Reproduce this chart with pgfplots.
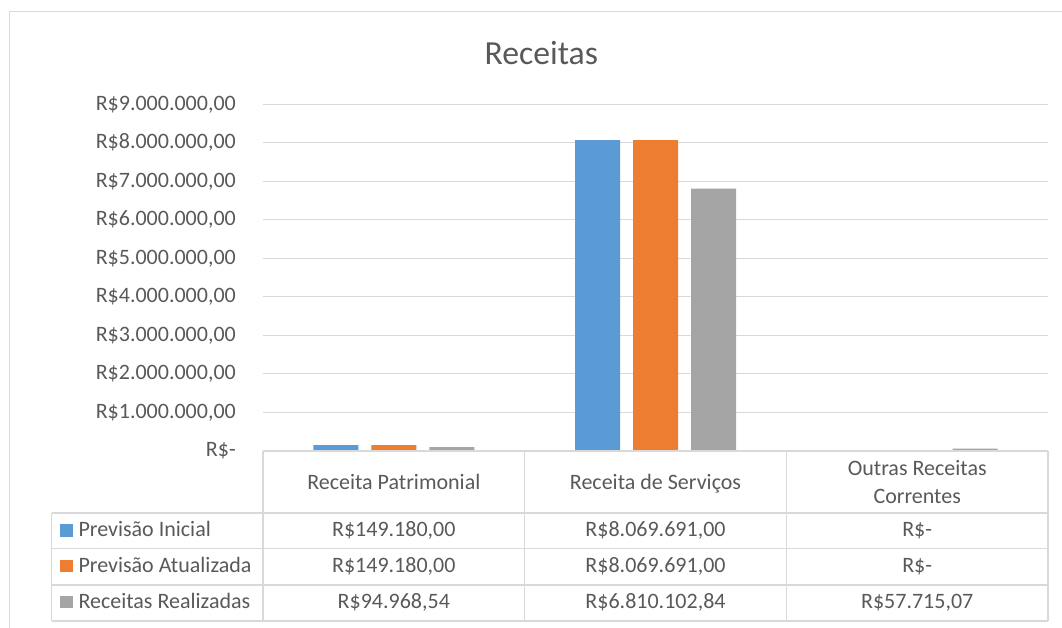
\documentclass[border=0pt]{standalone}
\usepackage{pgfplots}
\pgfplotsset{compat=1.18}
\usepackage{fontspec}
\setmainfont{Carlito}
\definecolor{txt}{HTML}{595959}
\definecolor{grd}{HTML}{D9D9D9}
\definecolor{c1}{HTML}{5B9BD5}
\definecolor{c2}{HTML}{ED7D31}
\definecolor{c3}{HTML}{A5A5A5}
\newcommand{\tf}{\fontsize{22}{26}\selectfont}
\begin{document}
\begin{tikzpicture}[x=1pt,y=1pt]
\useasboundingbox (0,0) rectangle (1062,628);
\begin{axis}[
  at={(263pt,177.2pt)}, anchor=south west,
  scale only axis, width=785pt, height=346.5pt,
  xmin=-0.5, xmax=2.5, ymin=0, ymax=9000000,
  xtick=\empty,
  ytick={0,1000000,2000000,3000000,4000000,5000000,6000000,7000000,8000000,9000000},
  yticklabels={{R\$-\hspace{9pt}},{R\$1.000.000,00},{R\$2.000.000,00},{R\$3.000.000,00},{R\$4.000.000,00},{R\$5.000.000,00},{R\$6.000.000,00},{R\$7.000.000,00},{R\$8.000.000,00},{R\$9.000.000,00}},
  ymajorgrids, grid style={grd, line width=1pt},
  axis line style={draw=none}, major tick length=0pt,
  yticklabel style={font=\tf, text=txt, inner sep=0pt, xshift=-27pt},
  ybar=13pt, bar width=45pt,
  scaled y ticks=false,
  clip=false,
]
\addplot[fill=c1, draw=none] coordinates {(0,149180) (1,8069691) (2,0)};
\addplot[fill=c2, draw=none] coordinates {(0,149180) (1,8069691) (2,0)};
\addplot[fill=c3, draw=none] coordinates {(0,94968.54) (1,6810102.84) (2,57715.07)};
\end{axis}
\begin{scope}[x=1pt,y=-1pt,yshift=628pt]
  % outer frame
  \draw[grd, line width=1pt] (9,628) -- (9,12) -- (1062,12);
  % title
  \node[anchor=base, text=txt, font=\fontsize{33.7}{40}\selectfont] at (541.3,64.3) {Receitas};
  % table lines
  \draw[grd, line width=1.2pt] (263,451) -- (1048,451);
  \draw[grd, line width=1.2pt] (51.7,513) -- (1048,513);
  \draw[grd, line width=1.2pt] (51.7,548.7) -- (1048,548.7);
  \draw[grd, line width=1.2pt] (51.7,585) -- (1048,585);
  \draw[grd, line width=1.2pt] (51.7,621) -- (1048,621);
  \draw[grd, line width=1.2pt] (51.7,513) -- (51.7,621);
  \draw[grd, line width=1.2pt] (263,451) -- (263,621);
  \draw[grd, line width=1.2pt] (524.7,451) -- (524.7,621);
  \draw[grd, line width=1.2pt] (786.3,451) -- (786.3,621);
  \draw[grd, line width=1.2pt] (1048,451) -- (1048,621);
  % header
  \node[anchor=base, text=txt, font=\tf, inner sep=0pt] at (393.8,490) {Receita Patrimonial};
  \node[anchor=base, text=txt, font=\tf, inner sep=0pt] at (655.5,490) {Receita de Serviços};
  \node[anchor=base, text=txt, font=\tf, inner sep=0pt] at (917.2,475.7) {Outras Receitas};
  \node[anchor=base, text=txt, font=\tf, inner sep=0pt] at (917.2,503.6) {Correntes};
  % legend keys
  \fill[c1] (60,524) rectangle (72.7,536.7);
  \fill[c2] (60,559.6) rectangle (72.7,572.3);
  \fill[c3] (60,595.6) rectangle (72.7,608.3);
  \node[anchor=base west, text=txt, font=\tf, inner sep=0pt] at (78.3,536.7) {Previsão Inicial};
  \node[anchor=base west, text=txt, font=\tf, inner sep=0pt] at (78.3,572.3) {Previsão Atualizada};
  \node[anchor=base west, text=txt, font=\tf, inner sep=0pt] at (78.3,608.3) {Receitas Realizadas};
  % values
  \node[anchor=base, text=txt, font=\tf, inner sep=0pt] at (393.8,536.7) {R\$149.180,00};
  \node[anchor=base, text=txt, font=\tf, inner sep=0pt] at (655.5,536.7) {R\$8.069.691,00};
  \node[anchor=base, text=txt, font=\tf, inner sep=0pt] at (917.2,536.7) {R\$-};
  \node[anchor=base, text=txt, font=\tf, inner sep=0pt] at (393.8,572.3) {R\$149.180,00};
  \node[anchor=base, text=txt, font=\tf, inner sep=0pt] at (655.5,572.3) {R\$8.069.691,00};
  \node[anchor=base, text=txt, font=\tf, inner sep=0pt] at (917.2,572.3) {R\$-};
  \node[anchor=base, text=txt, font=\tf, inner sep=0pt] at (393.8,608.3) {R\$94.968,54};
  \node[anchor=base, text=txt, font=\tf, inner sep=0pt] at (655.5,608.3) {R\$6.810.102,84};
  \node[anchor=base, text=txt, font=\tf, inner sep=0pt] at (917.2,608.3) {R\$57.715,07};
\end{scope}
\end{tikzpicture}
\end{document}
